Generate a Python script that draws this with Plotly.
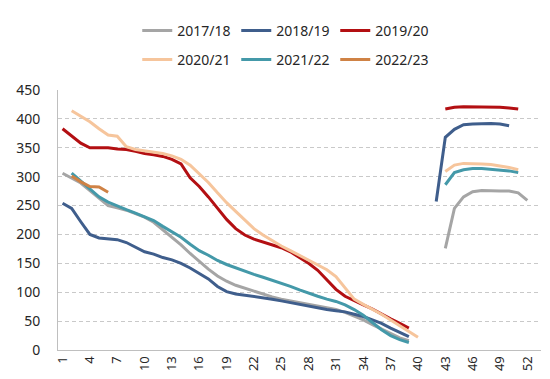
import plotly.graph_objects as go

weeks = list(range(1, 54))
tick_vals = list(range(1, 53, 3))
tick_text = [str(v) for v in tick_vals]

series_names = ["2017/18", "2018/19", "2019/20", "2020/21", "2021/22", "2022/23"]
colors = ["#A5A5A5", "#3F5E8C", "#B30F12", "#F6C59C", "#4499A9", "#CF8245"]

# early-season segment: (start week, values)
s1718_a = (1, [306, 298, 289, 276, 263, 250, 246, 242, 236, 230, 221, 208, 195, 182, 167,
               153, 140, 128, 119, 112, 107, 101, 97, 92, 88, 85, 83, 80, 76, 74, 70, 65,
               59, 52, 44, 36, 28, 21, 16])
s1718_b = (43, [176, 245, 265, 274, 276, 275, 275, 275, 272, 259])

s1819_a = (1, [254, 245, 222, 200, 194, 192, 191, 186, 178, 170, 166, 160, 156, 150, 142,
               133, 123, 110, 101, 97, 95, 92, 90, 88, 85, 82, 79, 76, 72, 70, 68, 66, 62,
               58, 52, 46, 38, 30, 23])
s1819_b = (42, [257, 368, 382, 390, 391, 392, 392, 391, 388])

s1920_a = (1, [383, 370, 358, 350, 350, 350, 348, 347, 344, 340, 338, 335, 330, 322, 298,
               283, 265, 245, 226, 210, 199, 192, 187, 183, 177, 170, 160, 150, 138, 122,
               105, 93, 85, 78, 71, 62, 54, 46, 38])
s1920_b = (43, [417, 420, 421, 421, 421, 420, 420, 419, 417])

s2021_a = (2, [414, 405, 395, 383, 372, 370, 352, 347, 345, 343, 340, 336, 330, 320, 305,
               290, 272, 255, 240, 225, 210, 199, 189, 180, 172, 164, 156, 148, 139, 127,
               108, 88, 79, 71, 62, 52, 42, 32, 22])
s2021_b = (43, [309, 320, 323, 323, 322, 321, 319, 316, 312])

s2122_a = (2, [306, 292, 278, 265, 256, 249, 243, 237, 231, 224, 214, 205, 195, 183, 172,
               164, 155, 148, 142, 136, 131, 126, 121, 116, 110, 104, 98, 93, 88, 84, 78,
               70, 60, 47, 35, 25, 18, 13])
s2122_b = (43, [286, 307, 312, 314, 314, 313, 312, 310, 307])

s2223_a = (2, [301, 291, 283, 282, 273])

segments = [
    [s1718_a, s1718_b],
    [s1819_a, s1819_b],
    [s1920_a, s1920_b],
    [s2021_a, s2021_b],
    [s2122_a, s2122_b],
    [s2223_a],
]


def build(segs):
    y = [None] * len(weeks)
    for start, vals in segs:
        for i, v in enumerate(vals):
            y[start - 1 + i] = v
    return y


font_family = "Noto Sans, DejaVu Sans, sans-serif"

fig = go.Figure()
for i, (name, color, segs) in enumerate(zip(series_names, colors, segments)):
    fig.add_trace(go.Scatter(
        x=weeks, y=build(segs), mode="lines", name=name,
        line=dict(color=color, width=3), connectgaps=False,
        legend="legend" if i < 3 else "legend2",
    ))

legend_common = dict(
    orientation="h", xref="container", yref="container",
    xanchor="center", yanchor="middle",
    font=dict(family=font_family, size=14, color="#262626"),
    entrywidth=54, entrywidthmode="pixels",
    bgcolor="rgba(0,0,0,0)", itemclick=False,
)

fig.update_layout(
    width=550, height=379,
    margin=dict(l=50, r=17, t=82, b=37, autoexpand=False),
    paper_bgcolor="white", plot_bgcolor="white",
    font=dict(family=font_family, size=13, color="#262626"),
    legend=dict(x=0.505, y=1 - 23 / 379, **legend_common),
    legend2=dict(x=0.505, y=1 - 52 / 379, **legend_common),
    xaxis=dict(
        range=[0.5, 53.5], tickmode="array", tickvals=tick_vals, ticktext=tick_text,
        tickangle=-90, showgrid=False, zeroline=False, automargin=False,
        showline=True, linecolor="#BFBFBF", linewidth=1,
        ticks="", tickfont=dict(size=13, color="#262626"),
    ),
    yaxis=dict(
        range=[0, 450], tickmode="linear", tick0=0, dtick=50, automargin=False,
        showgrid=True, gridcolor="#C9C9C9", gridwidth=1, griddash="4px,3px",
        zeroline=False, showline=True, linecolor="#BFBFBF", linewidth=1,
        ticks="", ticklabelstandoff=14, tickfont=dict(size=14, color="#262626"),
    ),
)

fig.write_html("out.html")
